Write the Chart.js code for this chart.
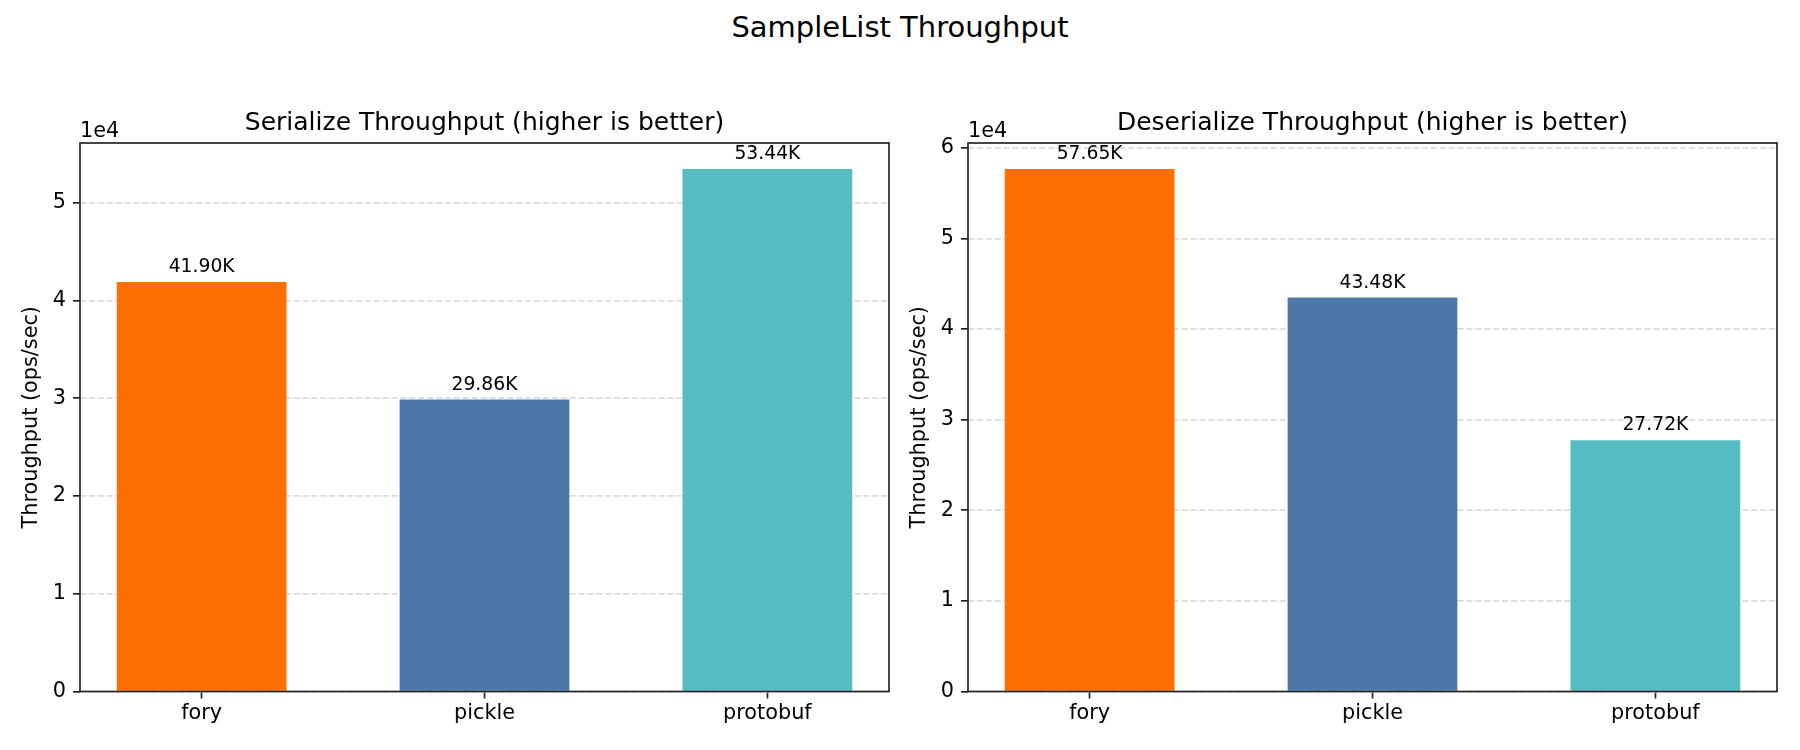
<!DOCTYPE html>
<html lang="en">
<head>
<meta charset="UTF-8">
<title>SampleList Throughput</title>
<script src="https://cdn.jsdelivr.net/npm/chart.js@4.4.1/dist/chart.umd.min.js"></script>
<style>
  body { margin: 0; background: #fff; }
  #page { position: relative; width: 1800px; height: 750px; overflow: hidden; }
  #suptitle {
    position: absolute; left: 0; top: 10px; width: 1800px;
    text-align: center; font: 29px/34px 'DejaVu Sans'; color: #000;
  }
  canvas { position: absolute; top: 0; }
  #serChart { left: 0; }
  #deChart { left: 888px; }
</style>
</head>
<body>
<div id="page">
  <div id="suptitle">SampleList Throughput</div>
  <canvas id="serChart" width="900" height="750"></canvas>
  <canvas id="deChart" width="900" height="750"></canvas>
</div>
<script>
// values (ops/sec)
const categories = ['fory', 'pickle', 'protobuf'];
const serializeOps = [41900, 29860, 53440];
const deserializeOps = [57650, 43480, 27720];
const barColors = ['#FF6F00', '#4C78A8', '#54BCC2'];
// y tick labels, in units of 1e4
const serializeTicks = [0, 1, 2, 3, 4, 5];
const deserializeTicks = [0, 1, 2, 3, 4, 5, 6];
const tickUnit = 1e4;

const FONT = 'DejaVu Sans';
const INK = '#222';

// spines, subplot title, offset text and value labels
const decor = {
  id: 'decor',
  afterDraw(chart, args, opts) {
    const ctx = chart.ctx;
    const a = chart.chartArea;
    ctx.save();
    ctx.strokeStyle = INK;
    ctx.lineWidth = 1.67;
    ctx.strokeRect(a.left, a.top, a.right - a.left, a.bottom - a.top);

    ctx.fillStyle = '#000';
    ctx.textBaseline = 'alphabetic';
    ctx.font = '25px "' + FONT + '"';
    ctx.textAlign = 'center';
    ctx.fillText(opts.title, (a.left + a.right) / 2, a.top - 13);

    ctx.font = '20.8px "' + FONT + '"';
    ctx.textAlign = 'left';
    ctx.fillText('1e4', a.left, a.top - 6);

    ctx.font = '18.75px "' + FONT + '"';
    ctx.textAlign = 'center';
    const ds = chart.data.datasets[0];
    chart.getDatasetMeta(0).data.forEach((bar, i) => {
      const v = ds.data[i].y;
      ctx.fillText((v / 1000).toFixed(2) + 'K', bar.x, bar.y - 10);
    });
    ctx.restore();
  }
};

function makeChart(id, title, values, yTicks) {
  const pad = 0.3 + 0.05 * (categories.length - 1 + 0.6);
  const ctx = document.getElementById(id).getContext('2d');
  return new Chart(ctx, {
    type: 'bar',
    data: {
      datasets: [{
        data: values.map((v, i) => ({ x: i, y: v })),
        backgroundColor: barColors,
        borderWidth: 0,
        barPercentage: 0.6,
        categoryPercentage: 1.0
      }]
    },
    options: {
      responsive: false,
      animation: false,
      layout: { padding: { top: 143, right: 11, bottom: 0, left: 0 } },
      plugins: {
        legend: { display: false },
        tooltip: { enabled: false },
        decor: { title: title }
      },
      scales: {
        x: {
          type: 'linear',
          offset: false,
          min: -pad,
          max: categories.length - 1 + pad,
          afterBuildTicks: (scale) => {
            scale.ticks = categories.map((c, i) => ({ value: i }));
          },
          afterFit: (scale) => { scale.height = 58.5; },
          ticks: {
            autoSkip: false,
            maxRotation: 0,
            padding: 3,
            color: '#000',
            font: { family: FONT, size: 20.8 },
            callback: (v) => categories[v]
          },
          grid: {
            offset: false,
            drawOnChartArea: false,
            tickLength: 7,
            tickWidth: 1.67,
            tickColor: INK,
            color: INK
          },
          border: { display: false }
        },
        y: {
          min: 0,
          max: Math.max(...values) * 1.05,
          afterBuildTicks: (scale) => {
            scale.ticks = yTicks.map((t) => ({ value: t * tickUnit }));
          },
          afterFit: (scale) => { scale.width = 80; },
          ticks: {
            padding: 7,
            color: '#000',
            font: { family: FONT, size: 20.8 },
            callback: (v) => v / tickUnit
          },
          grid: {
            color: '#dcdcdc',
            lineWidth: 1.67,
            tickLength: 7,
            tickWidth: 1.67,
            tickColor: INK,
            tickBorderDash: []
          },
          border: { display: false, dash: [6.2, 2.7] },
          title: {
            display: true,
            text: 'Throughput (ops/sec)',
            color: '#000',
            font: { family: FONT, size: 20.8, lineHeight: 1.2 },
            padding: { top: 19, bottom: 0 }
          }
        }
      }
    },
    plugins: [decor]
  });
}

makeChart('serChart', 'Serialize Throughput (higher is better)', serializeOps, serializeTicks);
makeChart('deChart', 'Deserialize Throughput (higher is better)', deserializeOps, deserializeTicks);
</script>
</body>
</html>
